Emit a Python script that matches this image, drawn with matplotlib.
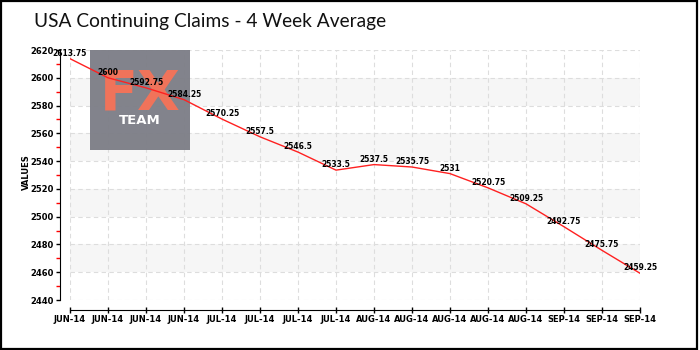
import matplotlib
matplotlib.use('Agg')
import matplotlib.pyplot as plt
from matplotlib.patches import Rectangle
from matplotlib.ticker import MultipleLocator

# 4 week average of continuing claims (thousands)
labels = ['JUN-14', 'JUN-14', 'JUN-14', 'JUN-14',
          'JUL-14', 'JUL-14', 'JUL-14', 'JUL-14',
          'AUG-14', 'AUG-14', 'AUG-14', 'AUG-14', 'AUG-14',
          'SEP-14', 'SEP-14', 'SEP-14']
values = [2613.75, 2600, 2592.75, 2584.25, 2570.25, 2557.5, 2546.5, 2533.5,
          2537.5, 2535.75, 2531, 2520.75, 2509.25, 2492.75, 2475.75, 2459.25]
y_min, y_max = 2440, 2620

W, H = 700, 350
PX = 72 / 100  # one pixel in points
fig = plt.figure(figsize=(7, 3.5), dpi=100)
fig.patch.set_facecolor('white')

# outer frame
fig.add_artist(Rectangle((0.001, 0.002), 0.995, 0.996, transform=fig.transFigure,
                         fill=False, edgecolor='black', linewidth=1.6))

fig.text(34 / W, 1 - 22 / H, 'USA Continuing Claims - 4 Week Average',
         fontsize=13.8, family=['Lato', 'DejaVu Sans'],
         va='center', ha='left', color='#111111')

ax = fig.add_axes([70 / W, 50 / H, 570 / W, 250 / H])
ax.set_facecolor('white')
x = list(range(len(values)))
ax.set_xlim(0, len(values) - 1)
ax.set_ylim(y_min, y_max)

# alternating bands
for lo in range(2460, y_max, 40):
    ax.axhspan(lo, lo + 20, color='#f6f6f6', zorder=0, lw=0)

ax.yaxis.set_major_locator(MultipleLocator(20))
ax.yaxis.set_minor_locator(MultipleLocator(10))
ax.set_xticks(x)
ax.set_xticklabels(labels)
ax.grid(True, which='major', color='#dddddd', linestyle=(0, (4, 3)), linewidth=0.8, zorder=1)
ax.set_axisbelow(True)

for s in ['top', 'right']:
    ax.spines[s].set_visible(False)
ax.spines['left'].set_position(('outward', 10 * PX))
ax.spines['bottom'].set_position(('outward', 10 * PX))
ax.spines['left'].set_bounds(y_min, y_max)
ax.spines['bottom'].set_bounds(0, len(values) - 1)
ax.tick_params(which='major', length=4 * PX, width=1, labelsize=6, pad=1.5)
ax.tick_params(axis='x', which='major', direction='inout', length=6 * PX)
ax.tick_params(axis='y', which='minor', length=4 * PX, width=1, color='red')
ax.tick_params(axis='x', which='minor', length=0)
for t in ax.get_xticklabels() + ax.get_yticklabels():
    t.set_fontweight('bold')
ax.set_ylabel('VALUES', fontsize=6, fontweight='bold')
ax.yaxis.set_label_coords(31 / W, 1 - 172 / H, transform=fig.transFigure)

# FX TEAM logo
ax.add_artist(Rectangle((90 / W, 1 - 150 / H), 100 / W, 100 / H, transform=fig.transFigure,
                        facecolor='#7e7f88', edgecolor='none', alpha=0.97, zorder=2, clip_on=False))
ax.text(140 / W, 1 - 95 / H, 'FX', transform=fig.transFigure, fontsize=40, fontweight='bold',
        color='#f0735a', ha='center', va='center', zorder=2.5)
ax.text(140 / W, 1 - 121 / H, 'TEAM', transform=fig.transFigure, fontsize=9.5, fontweight='bold',
        color='white', ha='center', va='center', zorder=2.5)

ax.plot(x, values, color='#ff2020', linewidth=1, zorder=3)
for xi, v in zip(x, values):
    ax.annotate(f'{v:g}', (xi, v), xytext=(0, 4), textcoords='offset points',
                ha='center', va='center', fontsize=5.5, fontweight='bold', zorder=4)

fig.savefig('out.png', dpi=100)
